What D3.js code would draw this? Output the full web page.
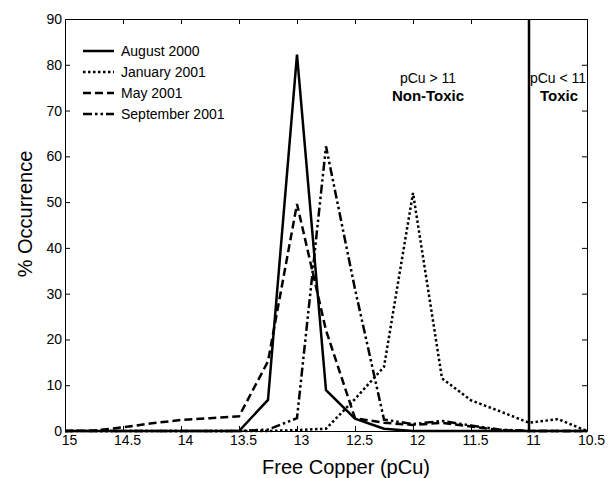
<!DOCTYPE html>
<html>
<head>
<meta charset="utf-8">
<script src="https://cdn.jsdelivr.net/npm/d3@7"></script>
<style>
  body { margin: 0; background: #fff; }
  svg text { font-family: "Liberation Sans", Arial, sans-serif; fill: #000; }
</style>
</head>
<body>
<script>
var width = 608,
    height = 478;

// free copper (pCu) bins
var pcu = [15, 14.75, 14.5, 14.25, 14, 13.75, 13.5, 13.25, 13, 12.75, 12.5, 12.25, 12, 11.75, 11.5, 11.25, 11, 10.75, 10.5];

var aug2000 = [0, 0, 0, 0, 0, 0, 0, 6.8, 82.2, 8.9, 2.7, 0.5, 0, 0, 0, 0, 0, 0, 0];
var jan2001 = [0, 0, 0, 0, 0, 0, 0, 0, 0.2, 0.5, 7, 14, 52, 11.5, 6.7, 4.3, 1.8, 2.6, 0];
var may2001 = [0, 0.1, 0.8, 1.7, 2.4, 2.8, 3.2, 15.2, 49.6, 22, 2.8, 1.8, 1.3, 1.8, 1, 0.2, 0, 0, 0];
var sep2001 = [0, 0, 0, 0, 0, 0, 0, 0.3, 2.8, 62.2, 31, 2.5, 1.5, 2.2, 1.2, 0.3, 0, 0, 0];

var seriesNames = ["August 2000", "January 2001", "May 2001", "September 2001"];
var seriesValues = [aug2000, jan2001, may2001, sep2001];
var seriesDash = [null, "2.5,2.5", "8,4", "9,3,2.5,3,2.5,3"];

var xTicks = [15, 14.5, 14, 13.5, 13, 12.5, 12, 11.5, 11, 10.5];
var yTicks = [0, 10, 20, 30, 40, 50, 60, 70, 80, 90];
var threshold = 11;

var margin = {left: 65, right: 21, top: 19, bottom: 47};

var x = d3.scaleLinear()
    .domain([15, 10.5])
    .range([margin.left, width - margin.right]);

var y = d3.scaleLinear()
    .domain([0, 90])
    .range([height - margin.bottom, margin.top]);

var svg = d3.select("body").append("svg")
    .attr("width", width)
    .attr("height", height);

// axes, ticks pointing inward on all four sides
function styleAxis(g) {
  g.selectAll("path, line").attr("stroke", "#000").attr("stroke-width", 1);
  g.selectAll("text").style("font-size", "14px").attr("fill", "#000");
}

svg.append("g")
    .attr("transform", "translate(0," + y(0) + ")")
    .call(d3.axisBottom(x).tickValues(xTicks).tickSize(-5).tickSizeOuter(0).tickPadding(4)
      .tickFormat(function(d) { return d; }))
    .call(styleAxis)
    .selectAll("text").attr("dx", 4);

svg.append("g")
    .attr("transform", "translate(0," + y(90) + ")")
    .call(d3.axisTop(x).tickValues(xTicks).tickSize(-5).tickSizeOuter(0).tickFormat(""))
    .call(styleAxis);

svg.append("g")
    .attr("transform", "translate(" + x(15) + ",0)")
    .call(d3.axisLeft(y).tickValues(yTicks).tickSize(-5).tickSizeOuter(0).tickPadding(3))
    .call(styleAxis);

svg.append("g")
    .attr("transform", "translate(" + x(10.5) + ",0)")
    .call(d3.axisRight(y).tickValues(yTicks).tickSize(-5).tickSizeOuter(0).tickFormat(""))
    .call(styleAxis);

// series lines
var line = d3.line()
    .x(function(d) { return x(d[0]); })
    .y(function(d) { return y(d[1]); });

seriesValues.forEach(function(vals, i) {
  svg.append("path")
      .datum(pcu.map(function(p, j) { return [p, vals[j]]; }))
      .attr("fill", "none")
      .attr("stroke", "#000")
      .attr("stroke-width", 2.5)
      .attr("stroke-dasharray", seriesDash[i])
      .attr("d", line);
});

// toxicity threshold
svg.append("line")
    .attr("x1", x(threshold)).attr("x2", x(threshold))
    .attr("y1", y(90)).attr("y2", y(0))
    .attr("stroke", "#000")
    .attr("stroke-width", 2.5);

// legend
var legend = svg.append("g").attr("transform", "translate(83,51)");
seriesNames.forEach(function(name, i) {
  var row = legend.append("g").attr("transform", "translate(0," + (i * 21) + ")");
  row.append("line")
      .attr("x1", 0).attr("x2", 31)
      .attr("stroke", "#000")
      .attr("stroke-width", 2.5)
      .attr("stroke-dasharray", seriesDash[i]);
  row.append("text")
      .attr("x", 38).attr("y", 5)
      .style("font-size", "14px")
      .text(name);
});

// annotations
svg.append("text").attr("x", 428).attr("y", 83).attr("text-anchor", "middle")
    .style("font-size", "14px").text("pCu > 11");
svg.append("text").attr("x", 428).attr("y", 101).attr("text-anchor", "middle")
    .style("font-size", "15px").style("font-weight", "bold").text("Non-Toxic");
svg.append("text").attr("x", 558).attr("y", 83).attr("text-anchor", "middle")
    .style("font-size", "14px").text("pCu < 11");
svg.append("text").attr("x", 559).attr("y", 101).attr("text-anchor", "middle")
    .style("font-size", "15px").style("font-weight", "bold").text("Toxic");

// axis titles
svg.append("text")
    .attr("x", 346)
    .attr("y", 474)
    .attr("text-anchor", "middle")
    .style("font-size", "20px")
    .text("Free Copper (pCu)");

svg.append("text")
    .attr("transform", "translate(32,214) rotate(-90)")
    .attr("text-anchor", "middle")
    .style("font-size", "20px")
    .text("% Occurrence");
</script>
</body>
</html>
